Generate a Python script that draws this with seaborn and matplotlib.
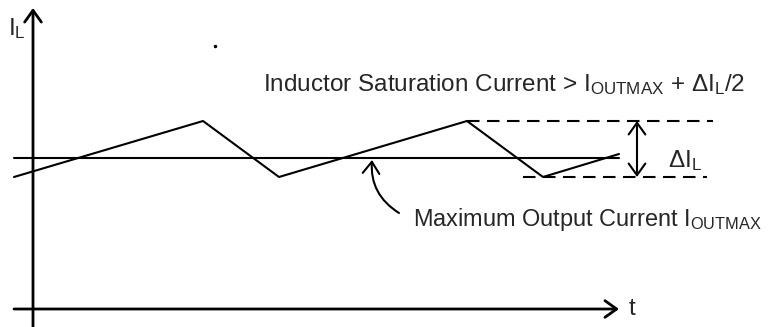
import matplotlib
matplotlib.use("Agg")
import matplotlib.pyplot as plt
import seaborn as sns
import pandas as pd

sns.set_theme(style="white")
plt.rcParams['font.family'] = ['Liberation Sans', 'DejaVu Sans']
plt.rcParams['mathtext.fontset'] = 'custom'
plt.rcParams['mathtext.rm'] = 'Liberation Sans'
plt.rcParams['mathtext.it'] = 'Liberation Sans'

# Inductor current waveform (time, current) in diagram units
time = [-19, 170, 246, 434, 510, 586]
current = [132, 188, 132, 188, 132, 155]
i_outmax = 151
i_peak = 188
i_valley = 132

df = pd.DataFrame({"t": time, "I": current})

fig = plt.figure(figsize=(7.69, 3.27), dpi=100)
ax = fig.add_axes([0, 0, 1, 1])
ax.set_xlim(-33, 736)
ax.set_ylim(-18, 309)
ax.axis("off")

lw = 1.5
sns.lineplot(data=df, x="t", y="I", ax=ax, color="black", lw=lw, legend=False)

# max output current line
ax.plot([-19, 586], [i_outmax, i_outmax], color="black", lw=lw)

# dashed peak / valley lines
dash = (0, (6, 3.6))
ax.plot([434, 680], [i_peak, i_peak], color="black", lw=1.5, ls=dash)
ax.plot([490, 674], [i_valley, i_valley], color="black", lw=1.5, ls=dash)

# axes arrows
arr = dict(arrowstyle="->,head_length=0.7,head_width=0.5", color="black", lw=2,
           shrinkA=0, shrinkB=0, mutation_scale=12)
ax.annotate("", xy=(586, 0), xytext=(-19, 0), arrowprops=arr)
ax.annotate("", xy=(0, 301), xytext=(0, -18), arrowprops=arr)

# delta I arrow
darr = dict(arrowstyle="<->,head_length=0.7,head_width=0.5", color="black", lw=1.5,
            shrinkA=0, shrinkB=0, mutation_scale=12)
ax.annotate("", xy=(604, i_peak), xytext=(604, i_valley), arrowprops=darr)

# curved arrow
carr = dict(arrowstyle="->,head_length=0.7,head_width=0.5", color="black", lw=1.5,
            shrinkA=0, shrinkB=0, mutation_scale=12, connectionstyle="arc3,rad=-0.3")
ax.annotate("", xy=(339, 149), xytext=(366, 96), arrowprops=carr)

fs = 17.5
ax.text(-25, 274, r"I$_{\mathrm{L}}$", fontsize=fs, ha="left", va="baseline")
ax.text(596, 0, "t", fontsize=fs, ha="left", va="center")
ax.text(635, 142, r"ΔI$_{\mathrm{L}}$", fontsize=fs, ha="left", va="baseline")
ax.text(230, 218, r"Inductor Saturation Current > I$_{\mathrm{OUTMAX}}$ + ΔI$_{\mathrm{L}}$/2",
        fontsize=fs, ha="left", va="baseline")
ax.text(380, 83, r"Maximum Output Current I$_{\mathrm{OUTMAX}}$",
        fontsize=16.9, ha="left", va="baseline")
ax.plot([182], [263], marker="o", ms=1.5, color="black")

fig.savefig("out.png", dpi=100)
